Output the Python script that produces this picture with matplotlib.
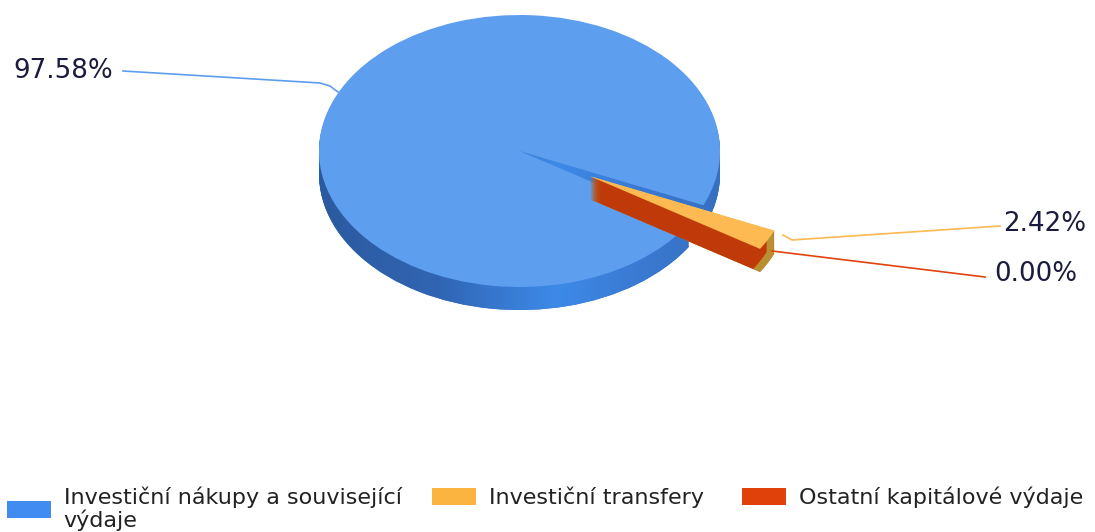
import numpy as np
import matplotlib.pyplot as plt
from matplotlib.patches import Patch
from matplotlib.colors import LinearSegmentedColormap

# data
categories = ['Investiční nákupy a související\nvýdaje', 'Investiční transfery', 'Ostatní kapitálové výdaje']
values = [97.58, 2.42, 0.00]
labels = ['97.58%', '2.42%', '0.00%']

top_colors = ['#5E9EEE', '#FDB952', '#E0440E']
side_colors = ['#3673C9', '#BF3A08', '#BF3A08']
rim_color = '#B8902F'
legend_colors = ['#418CF0', '#FCB441', '#E0400A']
explode = [0, 0.40, 0.40]

W, H = 1095, 532
fig = plt.figure(figsize=(W / 100, H / 100), dpi=100)

# pie axes: x unit = 200.5 px, y unit = 136 px (tilted look)
cx, cy, rx, ry = 519.5, 151, 200.5, 136
ax = fig.add_axes([0, 0, 1, 1])
depth = 23 / ry
start = -23.5
fracs = [v / 100 for v in values]
wp = dict(linewidth=0)

# side of the cylinder: stack of pies moved down
n = 24
bottom = None
for i in range(n, 0, -1):
    off = depth * i / n
    ws, _ = ax.pie(values, colors=side_colors, explode=explode, startangle=start,
                   center=(0, -off), radius=1, wedgeprops=wp)
    if bottom is None:
        bottom = ws[0]

# shading of the blue side
side_cmap = LinearSegmentedColormap.from_list(
    'side', [(0, '#2B5A9E'), (0.3, '#3165B4'), (0.59, '#3D8AE8'), (0.8, '#3A7AD2'), (1, '#3570C2')])
im = ax.imshow(np.linspace(0, 1, 256).reshape(1, -1), cmap=side_cmap, aspect='auto',
               extent=[-1, 1, -1 - depth, 1], zorder=1, interpolation='bilinear')
im.set_clip_path(bottom)

# blue top
ax.pie(values, colors=top_colors, explode=explode, startangle=start,
       radius=1, wedgeprops=wp)

# exploded wedge drawn again so it sits above the blue top
small_start = start + 360 * fracs[0]
for i in range(n, 0, -1):
    off = depth * i / n
    ax.pie(fracs[1:], colors=[rim_color] * 2, explode=explode[1:],
           startangle=small_start, normalize=False,
           center=(0, -off), radius=1, wedgeprops=wp)
for i in range(n, 0, -1):
    off = depth * i / n
    ax.pie(fracs[1:], colors=side_colors[1:], explode=explode[1:],
           startangle=small_start, normalize=False,
           center=(0, -off), radius=0.96, wedgeprops=wp)
ax.pie(fracs[1:], colors=top_colors[1:], explode=explode[1:],
       startangle=small_start, normalize=False,
       radius=1, wedgeprops=wp)

ax.set_aspect('auto')
ax.set_xlim(-cx / rx, (W - cx) / rx)
ax.set_ylim((cy - H) / ry, cy / ry)
ax.axis('off')

# labels with leader lines (pixel overlay)
ov = fig.add_axes([0, 0, 1, 1], facecolor='none')
ov.set_xlim(0, W)
ov.set_ylim(H, 0)
ov.axis('off')
ov.plot([123, 320, 330, 338], [71, 83, 86, 92], color='#5E9EEE', lw=1.2)
ov.plot([783, 792, 1000], [235, 240, 226], color='#FDB952', lw=1.2)
ov.plot([772, 985], [251, 277], color='#E0440E', lw=1.2)
txt = dict(fontsize=18.8, color='#1b1b3e', va='center')
ov.text(13, 71, labels[0], ha='left', **txt)
ov.text(1003, 224, labels[1], ha='left', **txt)
ov.text(994, 274, labels[2], ha='left', **txt)

# legend: one entry per box so each swatch sits with its own text
anchors = [(7, 487), (432, 487), (742, 487)]
lg_kw = dict(loc='upper left', frameon=False, fontsize=16, handlelength=2.0,
             handleheight=0.78, handletextpad=0.55, borderpad=0, borderaxespad=0,
             labelspacing=0, labelcolor='#222222', bbox_transform=fig.transFigure)
for cat, col, (lx, ly) in zip(categories, legend_colors, anchors):
    lg = fig.legend([Patch(facecolor=col, edgecolor='none')], [cat],
                    bbox_to_anchor=(lx / W, 1 - ly / H), **lg_kw)
    for t in lg.get_texts():
        t.set_linespacing(1.08)

fig.savefig('out.png', dpi=100)
